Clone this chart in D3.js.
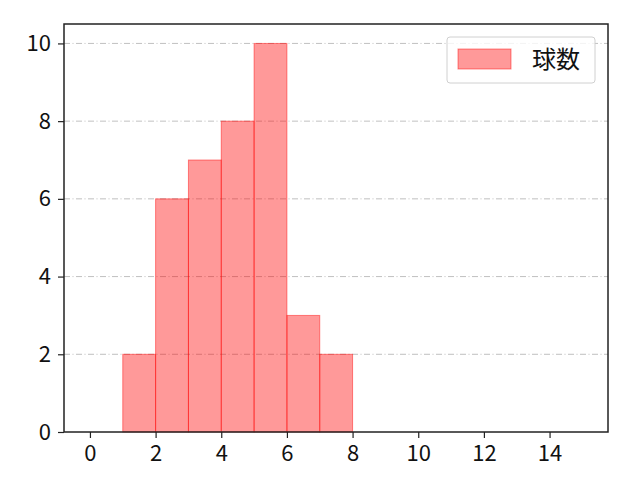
<!DOCTYPE html>
<html>
<head>
<meta charset="utf-8">
<script src="https://cdn.jsdelivr.net/npm/d3@7"></script>
<style>
  body { margin: 0; background: #fff; }
</style>
</head>
<body>
<script>
// histogram bins (left edge, right edge) and counts
var binStarts = [1, 2, 3, 4, 5, 6, 7];
var binEnds = [2, 3, 4, 5, 6, 7, 8];
var counts = [2, 6, 7, 8, 10, 3, 2];
var xTicks = [0, 2, 4, 6, 8, 10, 12, 14];
var yTicks = [0, 2, 4, 6, 8, 10];
var seriesName = "球数";

var W = 640, H = 480;
var mLeft = 64, mRight = 608, mTop = 24, mBottom = 432;
var FONT = "'Noto Sans CJK JP', 'DejaVu Sans', sans-serif";

var svg = d3.select("body").append("svg").attr("width", W).attr("height", H);

var x = d3.scaleLinear().domain([-0.79, 15.78]).range([mLeft, mRight]);
var y = d3.scaleLinear().domain([0, 10.5]).range([mBottom, mTop]);

// grid
svg.append("g").selectAll("line").data(yTicks.filter(function(d) { return d > 0 })).enter()
  .append("line")
  .attr("x1", mLeft).attr("x2", mRight)
  .attr("y1", function(d) { return y(d) }).attr("y2", function(d) { return y(d) })
  .attr("stroke", "#b0b0b0").attr("stroke-width", 0.8)
  .attr("stroke-dasharray", "6,2.5,1,2.5");

// bars
svg.append("g").selectAll("rect").data(counts).enter()
  .append("rect")
  .attr("x", function(d, i) { return x(binStarts[i]) })
  .attr("width", function(d, i) { return x(binEnds[i]) - x(binStarts[i]) })
  .attr("y", function(d) { return y(d) })
  .attr("height", function(d) { return y(0) - y(d) })
  .attr("fill", "rgba(255,0,0,0.4)")
  .attr("stroke", "rgba(255,0,0,0.45)")
  .attr("stroke-width", 1);

// axes
var xAxis = d3.axisBottom(x).tickValues(xTicks).tickSize(6).tickPadding(7).tickFormat(d3.format("d"));
var yAxis = d3.axisLeft(y).tickValues(yTicks).tickSize(6).tickPadding(7).tickFormat(d3.format("d"));

var gx = svg.append("g").attr("transform", "translate(0," + mBottom + ")").call(xAxis);
var gy = svg.append("g").attr("transform", "translate(" + mLeft + ",0)").call(yAxis);
[gx, gy].forEach(function(g) {
  g.attr("font-size", 22).attr("font-family", FONT);
  g.select(".domain").remove();
  g.selectAll(".tick line").attr("stroke", "#222").attr("stroke-width", 1.2);
  g.selectAll(".tick text").attr("fill", "#111");
});

// frame
svg.append("rect")
  .attr("x", mLeft).attr("y", mTop)
  .attr("width", mRight - mLeft).attr("height", mBottom - mTop)
  .attr("fill", "none").attr("stroke", "#222").attr("stroke-width", 1.5);

// legend
var lg = svg.append("g");
lg.append("rect")
  .attr("x", 447).attr("y", 37).attr("width", 148).attr("height", 46)
  .attr("rx", 3).attr("fill", "rgba(255,255,255,0.8)")
  .attr("stroke", "#d0d0d0").attr("stroke-width", 1);
lg.append("rect")
  .attr("x", 458).attr("y", 49).attr("width", 53).attr("height", 20)
  .attr("fill", "rgba(255,0,0,0.4)").attr("stroke", "rgba(255,0,0,0.45)");
lg.append("text")
  .attr("x", 532).attr("y", 68)
  .attr("font-family", FONT).attr("font-size", 24).attr("fill", "#111")
  .text(seriesName);
</script>
</body>
</html>
